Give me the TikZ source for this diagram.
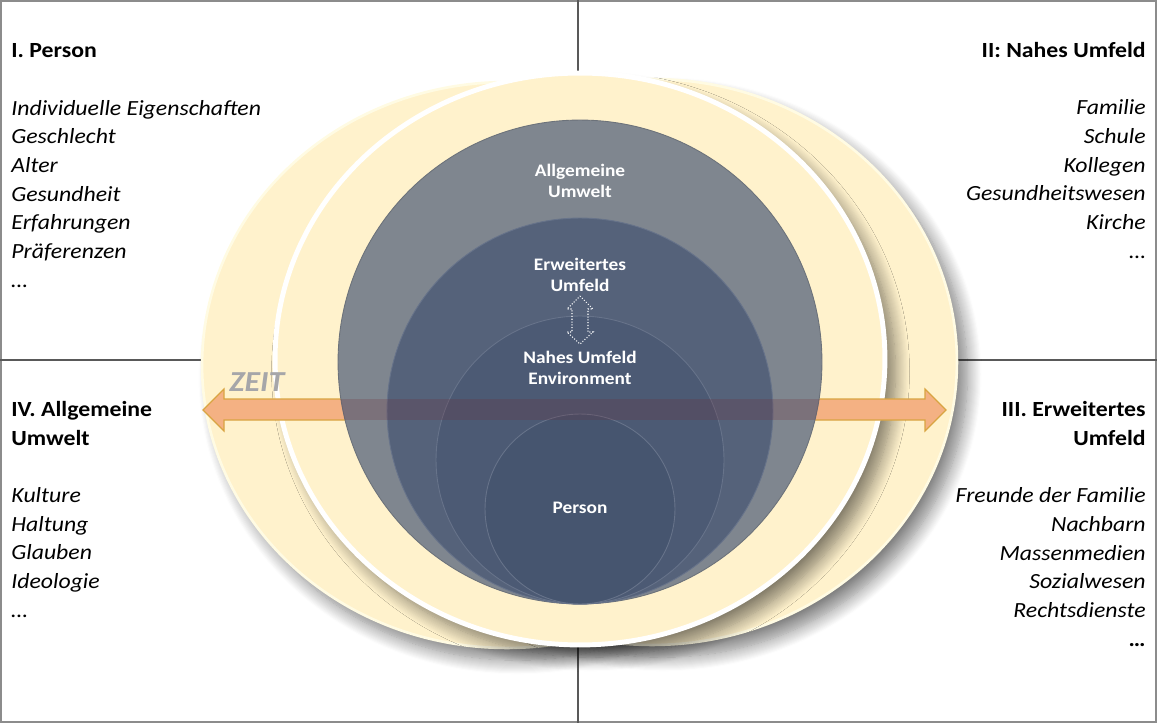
\documentclass[tikz,border=0pt]{standalone}
\usepackage{fontspec}
\setmainfont[FakeStretch=1.1]{Carlito}
\usepackage{tikz}
\usetikzlibrary{shapes.geometric,shadows.blur}

\definecolor{halo}{HTML}{FFF2CC}
\definecolor{halorim}{HTML}{FFFBE3}
\definecolor{allgc}{HTML}{7F868F}
\definecolor{erwc}{HTML}{55627A}
\definecolor{nahc}{HTML}{4C5A74}
\definecolor{persc}{HTML}{46556F}
\definecolor{kreisrand}{HTML}{67738A}
\definecolor{zeitc}{HTML}{F4B183}
\definecolor{zeitrand}{HTML}{D9A441}
\definecolor{zeitband}{HTML}{6E2832}
\definecolor{rahmen}{HTML}{8C8C8C}
\definecolor{achse}{HTML}{595959}
\definecolor{zeittext}{HTML}{A6A6A9}

\begin{document}
\begin{tikzpicture}[x=0.02cm, y=-0.02cm,
    ring/.style={ellipse, inner sep=0pt, fill=halo, minimum width=12.2cm, minimum height=11.32cm,
        blur shadow={shadow xshift=6pt, shadow yshift=-7pt, shadow blur radius=8pt,
                     shadow blur steps=14, shadow opacity=50}},
    kreis/.style={circle, inner sep=0pt, draw=kreisrand, line width=0.5pt},
    kreistext/.style={text=white, font=\fontsize{10}{11.9}\selectfont\bfseries, align=center, anchor=base, inner sep=0pt},
    feld/.style={font=\fontsize{12.3}{16.3}\selectfont\itshape, inner sep=0pt},
]
    \useasboundingbox (0,0) rectangle (1157,723);

    % Rahmen und Achsen
    \draw[rahmen, line width=1.2pt] (1,1) rectangle (1156,722);
    \draw[achse, line width=0.6pt] (578,0) -- (578,723);
    \draw[achse, line width=0.6pt] (0,360) -- (1157,360);

    % gelbe Ringe
    \node[ring, draw=halorim, line width=1.5pt] (ringL) at (507,365) {};
    \node[ring, draw=halorim, line width=1.5pt] (ringR) at (652,362) {};
    \node[ring, draw=white, line width=2.8pt, minimum height=11.44cm] (ringM) at (580,359) {};

    % Zeitpfeil
    \draw[fill=zeitc, draw=zeitrand, line width=0.7pt] (203,410) -- (224,389) -- (224,399) -- (925,399)
        -- (925,389) -- (946,410) -- (925,431) -- (925,420) -- (224,420) -- (224,431) -- cycle;

    % Kreise
    \node[kreis, fill=allgc, draw=allgc!85!black, minimum size=9.68cm] (allg) at (580,362) {};
    \node[kreis, fill=erwc, minimum size=7.72cm] (erw) at (580,411) {};
    \node[kreis, fill=nahc, minimum size=5.76cm] (nah) at (580,460) {};
    \node[kreis, fill=persc, minimum size=3.8cm] (pers) at (580,509) {};

    \begin{scope}
        \clip (580,362) circle [radius=242];
        \fill[zeitband, opacity=0.22] (203,399) rectangle (946,420);
    \end{scope}

    % base = Grundlinie der letzten Zeile
    \node[kreistext] (allgtext) at (580,197) {Allgemeine\\Umwelt};
    \node[kreistext] (erwtext) at (580,291) {Erweitertes\\Umfeld};
    \node[kreistext] (nahtext) at (580,384) {Nahes Umfeld\\Environment};
    \node[kreistext] (perstext) at (580,513) {Person};

    % Wechselwirkung
    \draw[white, densely dotted, line width=0.6pt] (580,296) -- (593,309) -- (588,309) -- (588,332) -- (593,332)
        -- (580,344) -- (567,332) -- (572,332) -- (572,309) -- (567,309) -- cycle;

    \node[anchor=base west, inner sep=0pt, text=zeittext, font=\fontsize{16.5}{18}\selectfont\bfseries\itshape] (zeit) at (229,391) {ZEIT};

    % Quadranten
    \node[feld, anchor=base west, align=left] (feldI) at (11,287)
        {{\upshape\bfseries I. Person}\\[16.3pt]
         Individuelle Eigenschaften\\ Geschlecht\\ Alter\\ Gesundheit\\ Erfahrungen\\ Präferenzen\\ …};
    \node[feld, anchor=base east, align=right] (feldII) at (1146,258)
        {{\upshape\bfseries II: Nahes Umfeld}\\[16.3pt]
         Familie\\ Schule\\ Kollegen\\ Gesundheitswesen\\ Kirche\\ …};
    \node[feld, anchor=base west, align=left] (feldIV) at (11,617)
        {{\upshape\bfseries IV. Allgemeine}\\ {\upshape\bfseries Umwelt}\\[16.3pt]
         Kulture\\ Haltung\\ Glauben\\ Ideologie\\ …};
    \node[feld, anchor=base east, align=right] (feldIII) at (1146,646)
        {{\upshape\bfseries III. Erweitertes}\\ {\upshape\bfseries Umfeld}\\[16.3pt]
         Freunde der Familie\\ Nachbarn\\ Massenmedien\\ Sozialwesen\\ Rechtsdienste\\ {\upshape\bfseries …}};
\end{tikzpicture}
\end{document}
